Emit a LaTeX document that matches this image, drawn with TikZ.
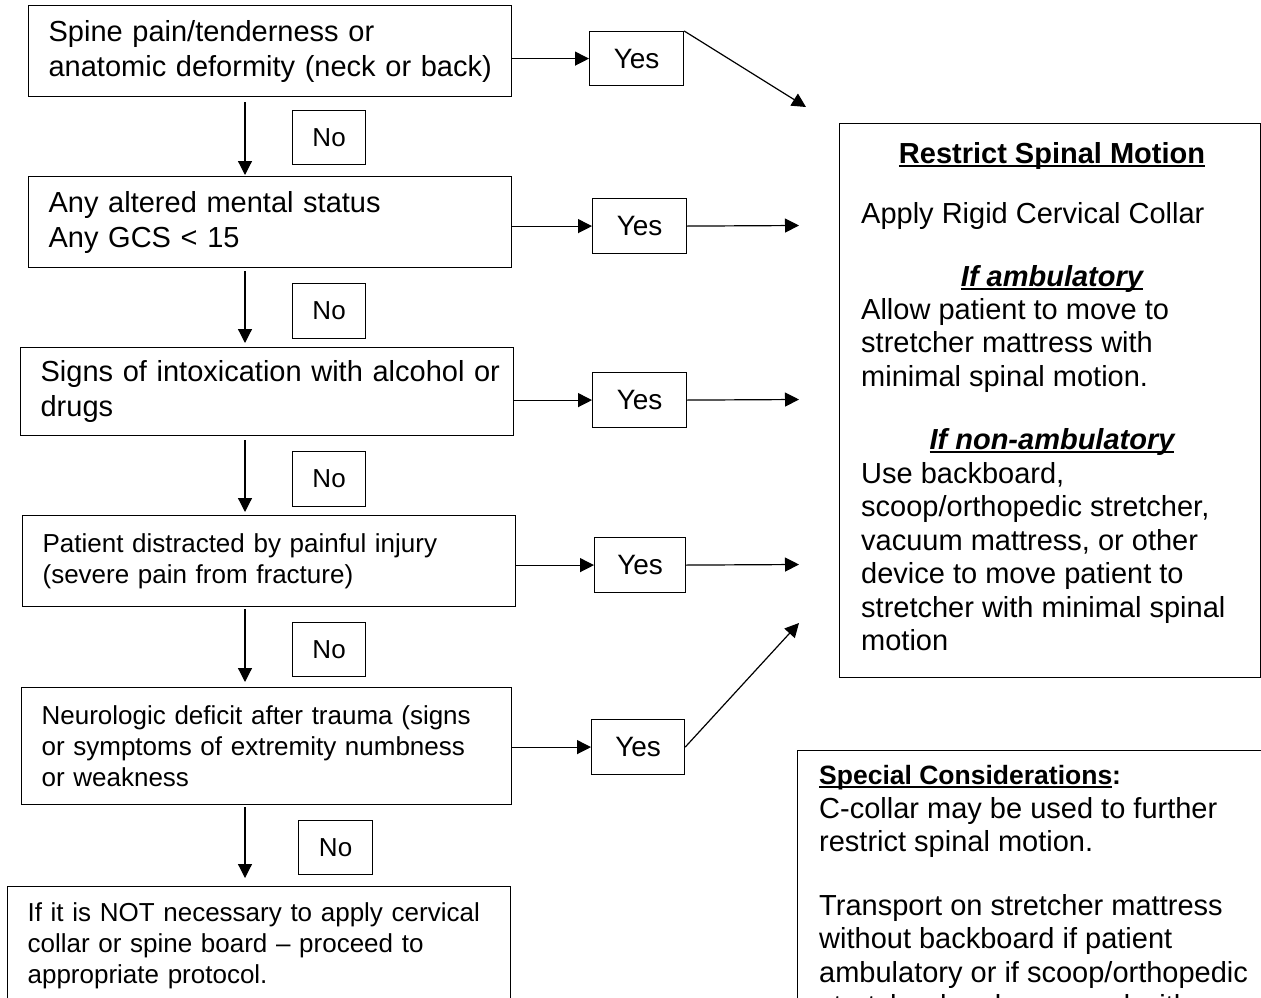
\documentclass[tikz,border=0pt]{standalone}
\usepackage{fontspec}
\setmainfont{Liberation Sans}
\usetikzlibrary{arrows.meta,calc}
\newcommand\fa{\fontsize{29}{35}\selectfont}
\newcommand\fb{\fontsize{26}{31}\selectfont}
\newcommand\fr{\fontsize{29}{33.5}\selectfont}
\newcommand\fyes{\fontsize{28}{33}\selectfont}
\newcommand\fno{\fontsize{26}{31}\selectfont}
\newcommand\fhead{\fontsize{29}{33.5}\selectfont\bfseries}
\newcommand\fhi{\fontsize{29}{33.5}\selectfont\bfseries\itshape}
\newcommand\fsp{\fontsize{26.5}{31}\selectfont\bfseries}
\newcommand\myul[1]{\setbox0\hbox{#1}\rlap{\rule[-3.5pt]{\wd0}{2pt}}\box0}
\begin{document}
\begin{tikzpicture}[x=1pt,y=-1pt,
  qbox/.style={draw, line width=1.2pt, anchor=north west, align=left, inner xsep=20pt, inner ysep=0pt},
  ynbox/.style={draw, line width=1.2pt, anchor=north west, inner sep=0pt},
  big/.style={draw, line width=1.2pt, anchor=north west, inner sep=0pt},
  txt/.style={inner sep=0pt},
  arr/.style={line width=1.2pt, -{Triangle[length=14pt,width=14pt]}}]
\useasboundingbox (0,0) rectangle (1261,998);
\clip (0,0) rectangle (1261,998);
\coordinate (colx) at (245,0);
% question boxes
\node[qbox, font=\fa, text width=443pt, minimum width=483pt, minimum height=91pt] (q1) at (28,5)
  {\mbox{Spine pain/tenderness or}\\\mbox{anatomic deformity (neck or back)}};
\node[qbox, font=\fa, text width=443pt, minimum width=483pt, minimum height=91pt] (q2) at (28,176)
  {\mbox{Any altered mental status}\\\mbox{Any GCS < 15}};
\node[qbox, font=\fa, text width=453pt, minimum width=493pt, minimum height=88pt] (q3) at (20,347)
  {\mbox{Signs of intoxication with alcohol or}\\\mbox{drugs}};
\node[qbox, font=\fb, text width=453pt, minimum width=493pt, minimum height=91pt] (q4) at (22,515)
  {\mbox{Patient distracted by painful injury}\\\mbox{(severe pain from fracture)}};
\node[qbox, font=\fb, text width=450pt, minimum width=490pt, minimum height=117pt] (q5) at (21,687)
  {\mbox{Neurologic deficit after trauma (signs}\\\mbox{or symptoms of extremity numbness}\\\mbox{or weakness}};
\node[qbox, font=\fb, text width=463pt, minimum width=503pt, minimum height=118pt] (q6) at (7,886)
  {\mbox{If it is NOT necessary to apply cervical}\\\mbox{collar or spine board -- proceed to}\\\mbox{appropriate protocol.}};
% No boxes
\node[ynbox, font=\fno, minimum width=73pt, minimum height=54pt] (n1) at (292,110) {No};
\node[ynbox, font=\fno, minimum width=73pt, minimum height=55pt] (n2) at (292,283) {No};
\node[ynbox, font=\fno, minimum width=73pt, minimum height=55pt] (n3) at (292,451) {No};
\node[ynbox, font=\fno, minimum width=73pt, minimum height=54pt] (n4) at (292,622) {No};
\node[ynbox, font=\fno, minimum width=74pt, minimum height=54pt] (n5) at (298,820) {No};
% Yes boxes
\node[ynbox, font=\fyes, minimum width=94pt, minimum height=54pt] (y1) at (589,31) {Yes};
\node[ynbox, font=\fyes, minimum width=94pt, minimum height=55pt] (y2) at (592,198) {Yes};
\node[ynbox, font=\fyes, minimum width=94pt, minimum height=55pt] (y3) at (592,372) {Yes};
\node[ynbox, font=\fyes, minimum width=91pt, minimum height=55pt] (y4) at (594,537) {Yes};
\node[ynbox, font=\fyes, minimum width=93pt, minimum height=55pt] (y5) at (591,719) {Yes};
% Restrict spinal motion box
\node[big, minimum width=421pt, minimum height=554pt] (rsm) at (839,123) {};
\node[txt, anchor=base, font=\fhead] (rsmt) at (1052,163) {\myul{Restrict Spinal Motion}};
\node[txt, anchor=base west, font=\fr] (apply) at (861,223) {Apply Rigid Cervical Collar};
\node[txt, anchor=base, font=\fhi] (amb) at (1052,286) {\myul{If ambulatory}};
\node[txt, anchor=north west, align=left, font=\fr] (ambt) at (861,297)
  {\rule{0pt}{22pt}Allow patient to move to\\stretcher mattress with\\minimal spinal motion.};
\node[txt, anchor=base, font=\fhi] (namb) at (1052,449) {\myul{If non-ambulatory}};
\node[txt, anchor=north west, align=left, font=\fr] (nambt) at (861,461)
  {\rule{0pt}{22pt}Use backboard,\\scoop/orthopedic stretcher,\\vacuum mattress, or other\\device to move patient to\\stretcher with minimal spinal\\motion};
% Special considerations box
\node[big, minimum width=480pt, minimum height=300pt] (sc) at (797,750) {};
\node[txt, anchor=base west, font=\fsp] (sch) at (819,784) {\myul{Special Considerations}:};
\node[txt, anchor=north west, align=left, font=\fr] (sc1) at (819,796)
  {\rule{0pt}{22pt}C-collar may be used to further\\restrict spinal motion.};
\node[txt, anchor=north west, align=left, font=\fr] (sc2) at (819,893)
  {\rule{0pt}{22pt}Transport on stretcher mattress\\without backboard if patient\\ambulatory or if scoop/orthopedic\\stretcher has been used with};
% arrow end points
\coordinate (e1) at (806,107);
\coordinate (e2) at (799,225.5);
\coordinate (e3) at (799,399.5);
\coordinate (e4) at (799,564.5);
\coordinate (e5) at (799,623);
% down arrows
\draw[arr] ($(q1.south -| colx)+(0,5)$) -- ($(q2.north -| colx)+(0,-1)$);
\draw[arr] ($(q2.south -| colx)+(0,3)$) -- ($(q3.north -| colx)+(0,-4)$);
\draw[arr] ($(q3.south -| colx)+(0,4)$) -- ($(q4.north -| colx)+(0,-3)$);
\draw[arr] ($(q4.south -| colx)+(0,2)$) -- ($(q5.north -| colx)+(0,-5)$);
\draw[arr] ($(q5.south -| colx)+(0,2)$) -- ($(q6.north -| colx)+(0,-8)$);
% yes arrows
\draw[arr] (q1.east |- y1.west) -- (y1.west);
\draw[arr] (q2.east |- y2.west) -- (y2.west);
\draw[arr] (q3.east |- y3.west) -- (y3.west);
\draw[arr] (q4.east |- y4.west) -- (y4.west);
\draw[arr] (q5.east |- y5.west) -- (y5.west);
\draw[arr] (y1.north east) -- (e1);
\draw[arr] (y2.east) -- (e2);
\draw[arr] (y3.east) -- (e3);
\draw[arr] (y4.east) -- (e4);
\draw[arr] (y5.east) -- (e5);
\end{tikzpicture}
\end{document}
